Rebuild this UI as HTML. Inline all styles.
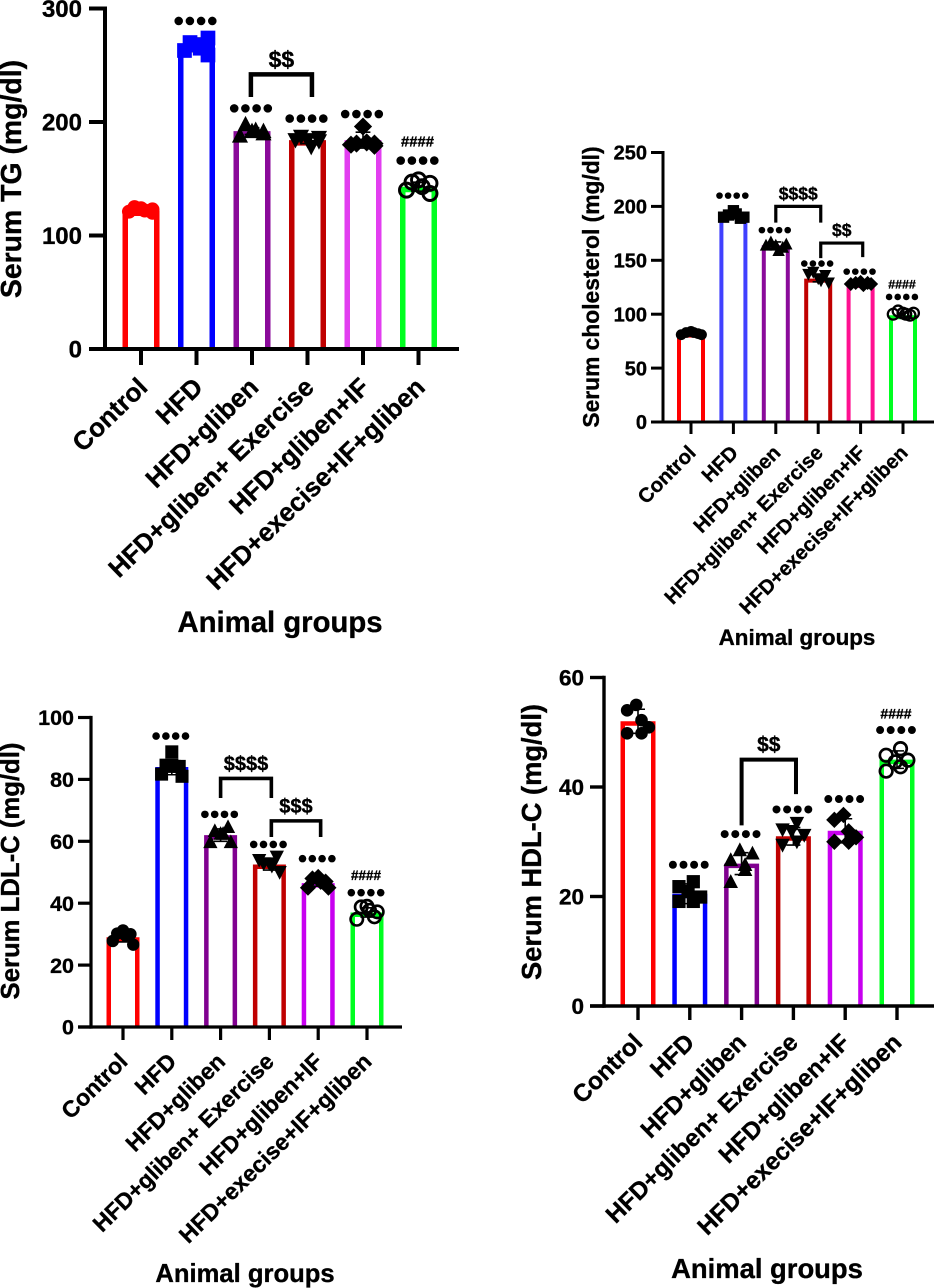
<!DOCTYPE html>
<html lang="en">
<head>
<meta charset="utf-8">
<title>Serum lipid profile by animal group</title>
<style>
html,body{margin:0;padding:0;background:#fff;}
svg{display:block;font-family:"Liberation Sans",Arial,sans-serif;font-weight:bold;}
text{fill:#000;stroke:#000;stroke-width:0.35px;}
</style>
</head>
<body>
<svg id="figure" xmlns="http://www.w3.org/2000/svg" width="934" height="1288" viewBox="0 0 934 1288">
  <g id="tg">
    <text transform="translate(21,179) rotate(-90)" text-anchor="middle" font-size="28.4">Serum TG (mg/dl)</text>
    <text x="280" y="632" text-anchor="middle" font-size="29.3">Animal groups</text>
  </g>
  <g id="chol">
    <text transform="translate(599,287) rotate(-90)" text-anchor="middle" font-size="22.8">Serum cholesterol (mg/dl)</text>
    <text x="797" y="645" text-anchor="middle" font-size="22.4">Animal groups</text>
  </g>
  <g id="ldl">
    <text transform="translate(19,871) rotate(-90)" text-anchor="middle" font-size="25.7">Serum LDL-C (mg/dl)</text>
    <text x="245" y="1282" text-anchor="middle" font-size="25.6">Animal groups</text>
  </g>
  <g id="hdl">
    <text transform="translate(541,842) rotate(-90)" text-anchor="middle" font-size="27.3">Serum HDL-C (mg/dl)</text>
    <text x="767" y="1278" text-anchor="middle" font-size="27.4">Animal groups</text>
  </g>
</svg>
<script>
const categories = ["Control", "HFD", "HFD+gliben", "HFD+gliben+ Exercise", "HFD+gliben+IF", "HFD+execise+IF+gliben"];
const markerShapes = ["circle", "square", "triangle", "invTriangle", "diamond", "ring"];

const tgTicks = [0, 100, 200, 300];
const tgMeans = [122, 268, 192, 184, 184, 143];
const tgSd = [2, 6, 3, 3, 7, 4];
const tgPoints = [
  [121, 125, 124, 122, 120, 123],
  [263, 270, 268, 265, 274, 259],
  [188, 198, 192, 193, 190, 192],
  [184, 187, 184, 178, 186, 183],
  [180, 181, 196, 182, 179, 181],
  [140, 147, 149, 143, 146, 137]
];
const tgStars = [null, 289, 212, 203, 207, 166];
const tgHash = [null, null, null, null, null, 183];
const tgBrackets = [{from: 1.98, to: 3.08, top: 242, leftEnd: 222, rightEnd: 222, label: "$$"}];

const cholTicks = [0, 50, 100, 150, 200, 250];
const cholMeans = [82, 192, 164, 133, 128, 99];
const cholSd = [2, 3, 3, 3, 1, 2];
const cholPoints = [
  [81, 83, 84, 83, 82, 81],
  [190, 192, 196, 193, 189, 190],
  [164, 167, 164, 159, 162, 165],
  [137, 139, 133, 131, 136, 129],
  [128, 129, 130, 127, 129, 128],
  [100, 103, 101, 100, 99, 101]
];
const cholStars = [null, 210, 178, 147, 139.5, 116];
const cholHash = [null, null, null, null, null, 128];
const cholBrackets = [
  {from: 2, to: 3.06, top: 200, leftEnd: 185, rightEnd: 185, label: "$$$$"},
  {from: 3.06, to: 4.05, top: 166, leftEnd: 152, rightEnd: 153, label: "$$"}
];

const ldlTicks = [0, 20, 40, 60, 80, 100];
const ldlMeans = [29, 84, 62, 52.5, 46.5, 37];
const ldlSd = [1.5, 2.5, 2, 1.8, 1, 1.5];
const ldlPoints = [
  [27.8, 30.2, 31.2, 29.6, 30, 26.6],
  [81.7, 84.6, 88.9, 84.2, 84.2, 81],
  [59.8, 63.4, 62.5, 62.5, 64.7, 59.8],
  [53.9, 52.8, 52.8, 52, 55, 50],
  [45, 48, 48.5, 46.9, 47, 45],
  [34.8, 38.8, 39, 37.7, 35.6, 37.2]
];
const ldlStars = [null, 94, 68.7, 59, 54.4, 43.4];
const ldlHash = [null, null, null, null, null, 49];
const ldlBrackets = [
  {from: 2, to: 3.04, top: 80.3, leftEnd: 74, rightEnd: 74, label: "$$$$"},
  {from: 3.04, to: 4.05, top: 66.6, leftEnd: 61.4, rightEnd: 61.4, label: "$$$"}
];

const hdlTicks = [0, 20, 40, 60];
const hdlMeans = [52, 20.5, 26, 31, 32, 45];
const hdlSd = [2.2, 1.8, 2, 1.6, 2.2, 1.6];
const hdlPoints = [
  [49.8, 54, 55, 52.2, 49.8, 50.9],
  [21.8, 19.1, 20.9, 22.7, 19.1, 19.9],
  [22.7, 26.7, 28.5, 25.8, 24.9, 27.9],
  [29.4, 32.2, 31.9, 33.4, 30, 31.2],
  [30, 34, 34.9, 31.9, 30, 30.8],
  [42.9, 45.8, 44.6, 47, 43.7, 44.9]
];
const hdlStars = [null, 25.8, 31.4, 35.9, 37.8, 50.4];
const hdlHash = [null, null, null, null, null, 53.4];
const hdlBrackets = [{from: 2, to: 3.05, top: 45, leftEnd: 33, rightEnd: 38.7, label: "$$"}];

const NS = "http://www.w3.org/2000/svg";

function make(parent, tag, attrs) {
  const el = document.createElementNS(NS, tag);
  for (const k in attrs) el.setAttribute(k, attrs[k]);
  parent.appendChild(el);
  return el;
}

function markerAt(g, shape, cx, cy, r, color) {
  let el;
  if (shape === "circle") {
    el = make(g, "circle", {cx: cx, cy: cy, r: r, fill: color});
  } else if (shape === "ring") {
    el = make(g, "circle", {cx: cx, cy: cy, r: r * 1.0, fill: "none", stroke: color, "stroke-width": r * 0.42});
  } else if (shape === "square") {
    el = make(g, "rect", {x: cx - r * 1.05, y: cy - r * 1.05, width: r * 2.1, height: r * 2.1, fill: color});
  } else if (shape === "triangle") {
    el = make(g, "path", {d: "M" + cx + " " + (cy - r * 1.2) + "L" + (cx + r * 1.15) + " " + (cy + r * 1.0) + "L" + (cx - r * 1.15) + " " + (cy + r * 1.0) + "Z", fill: color});
  } else if (shape === "invTriangle") {
    el = make(g, "path", {d: "M" + cx + " " + (cy + r * 1.2) + "L" + (cx + r * 1.15) + " " + (cy - r * 1.0) + "L" + (cx - r * 1.15) + " " + (cy - r * 1.0) + "Z", fill: color});
  } else {
    el = make(g, "path", {d: "M" + cx + " " + (cy - r * 1.3) + "L" + (cx + r * 1.3) + " " + cy + "L" + cx + " " + (cy + r * 1.3) + "L" + (cx - r * 1.3) + " " + cy + "Z", fill: color});
  }
  
  
}

function drawChart(c) {
  const g = document.getElementById(c.id);
  const maxTick = c.ticks[c.ticks.length - 1];
  const y = function (v) { return c.y0 - (v / maxTick) * (c.y0 - c.yTop); };
  const x = function (i) { return c.xFirst + i * c.xStep; };
  const half = c.barW / 2;

  c.means.forEach(function (m, i) {
    const s2 = c.barS / 2;
    const topY = y(m) + s2;
    const bar = make(g, "path", {
      d: "M" + (x(i) - half + s2) + " " + c.y0 + "V" + topY + "H" + (x(i) + half - s2) + "V" + c.y0,
      fill: "none", stroke: c.colors[i], "stroke-width": c.barS
    });
    
    
  });

  const yAxis = make(g, "line", {x1: c.axisX, x2: c.axisX, y1: c.yTop - c.axisW / 2, y2: c.y0 + c.axisW / 2, stroke: "#000", "stroke-width": c.axisW});
  
  
  const xAxis = make(g, "line", {x1: c.axisX - c.tickLen, x2: c.axisEnd, y1: c.y0, y2: c.y0, stroke: "#000", "stroke-width": c.axisW});
  
  

  c.ticks.forEach(function (t) {
    const mark = make(g, "line", {x1: c.axisX - c.tickLen, x2: c.axisX, y1: y(t), y2: y(t), stroke: "#000", "stroke-width": c.axisW});
    
    
    const label = make(g, "text", {x: c.axisX - c.tickLen - c.tickGap, y: y(t) + c.tickFont * 0.36, "text-anchor": "end", "font-size": c.tickFont});
    
    
    label.textContent = t;
  });

  categories.forEach(function (name, i) {
    const mark = make(g, "line", {x1: x(i), x2: x(i), y1: c.y0, y2: c.y0 + c.tickLen, stroke: "#000", "stroke-width": c.axisW});
    
    
    const label = make(g, "text", {
      transform: "translate(" + (x(i) + c.labelDx) + "," + (c.y0 + c.labelDy) + ") rotate(" + (-c.labelAngle) + ")",
      "text-anchor": "end", "font-size": c.catFont
    });
    
    
    label.textContent = name;
  });

  c.sd.forEach(function (s, i) {
    const m = c.means[i];
    const capW = c.barW * 0.2;
    const err = make(g, "path", {
      d: "M" + x(i) + " " + y(m + s) + "V" + y(m - s) +
         "M" + (x(i) - capW) + " " + y(m + s) + "H" + (x(i) + capW) +
         "M" + (x(i) - capW) + " " + y(m - s) + "H" + (x(i) + capW),
      stroke: "#000", "stroke-width": 1.6, fill: "none"
    });
    
    
  });

  c.points.forEach(function (grp, i) {
    grp.forEach(function (v, j) {
      markerAt(g, markerShapes[i], x(i) + c.swarm[j] * half, y(v), c.markR, c.markerColors[i]);
    });
  });

  c.stars.forEach(function (v, i) {
    if (v === null) return;
    for (let k = 0; k < 4; k++) {
      const dot = make(g, "circle", {cx: x(i) - 1.5 * c.dotGap + k * c.dotGap - 1, cy: y(v), r: c.dotR, fill: "#000"});
      
      
    }
  });

  c.hash.forEach(function (v, i) {
    if (v === null) return;
    const t = make(g, "text", {x: x(i) - 1, y: y(v) + c.hashFont * 0.36, "text-anchor": "middle", "font-size": c.hashFont});
    
    
    t.textContent = "####";
  });

  c.brackets.forEach(function (b) {
    const path = make(g, "path", {
      d: "M" + x(b.from) + " " + y(b.leftEnd) + "V" + y(b.top) + "H" + x(b.to) + "V" + y(b.rightEnd),
      fill: "none", stroke: "#000", "stroke-width": c.bracketW
    });
    
    
    const t = make(g, "text", {x: (x(b.from) + x(b.to)) / 2, y: y(b.top) - c.bracketGap, "text-anchor": "middle", "font-size": c.bracketFont});
    
    
    t.textContent = b.label;
  });
}

drawChart({
  id: "tg", ticks: tgTicks, means: tgMeans, sd: tgSd, points: tgPoints, stars: tgStars, hash: tgHash, brackets: tgBrackets,
  y0: 349, yTop: 8.5, axisX: 105, axisEnd: 459, xFirst: 141, xStep: 55.5, barW: 37, barS: 5.5, axisW: 4, tickLen: 16, tickGap: 7, bracketW: 4.5,
  tickFont: 24, catFont: 25.9, labelDx: 8, labelDy: 40, labelAngle: 44, markR: 7, dotR: 4.3, dotGap: 11.2, hashFont: 14.8, bracketFont: 23, bracketGap: 7,
  colors: ["#ff0000", "#0000ff", "#8a0a9a", "#c00000", "#e23ef0", "#00ff20"],
  markerColors: ["#ff0000", "#0000ff", "#000", "#000", "#000", "#000"],
  swarm: [-0.65, -0.35, 0, 0.2, 0.62, 0.62]
});
drawChart({
  id: "chol", ticks: cholTicks, means: cholMeans, sd: cholSd, points: cholPoints, stars: cholStars, hash: cholHash, brackets: cholBrackets,
  y0: 422, yTop: 152.5, axisX: 663, axisEnd: 934, xFirst: 691, xStep: 42.4, barW: 28, barS: 4, axisW: 3, tickLen: 12, tickGap: 4, bracketW: 3.2,
  tickFont: 20, catFont: 20.3, labelDx: 6, labelDy: 32, labelAngle: 45, markR: 5.4, dotR: 3.3, dotGap: 8.6, hashFont: 12.4, bracketFont: 17.5, bracketGap: 7,
  colors: ["#ff0000", "#4040ff", "#8a0a9a", "#c00000", "#ff1090", "#00ff20"],
  markerColors: ["#000", "#000", "#000", "#000", "#000", "#000"],
  swarm: [-0.7, -0.35, 0, 0.2, 0.5, 0.75]
});
drawChart({
  id: "ldl", ticks: ldlTicks, means: ldlMeans, sd: ldlSd, points: ldlPoints, stars: ldlStars, hash: ldlHash, brackets: ldlBrackets,
  y0: 1027, yTop: 717.5, axisX: 91, axisEnd: 402, xFirst: 123, xStep: 48.8, barW: 33, barS: 4.5, axisW: 3.2, tickLen: 13, tickGap: 4, bracketW: 3.6,
  tickFont: 21.5, catFont: 23, labelDx: 6, labelDy: 36, labelAngle: 44.5, markR: 6.2, dotR: 3.8, dotGap: 9.8, hashFont: 13.5, bracketFont: 20, bracketGap: 8,
  colors: ["#ff0000", "#0000ff", "#800090", "#c00000", "#c800f0", "#00ff20"],
  markerColors: ["#000", "#000", "#000", "#000", "#000", "#000"],
  swarm: [-0.62, -0.35, 0, 0.15, 0.45, 0.62]
});
drawChart({
  id: "hdl", ticks: hdlTicks, means: hdlMeans, sd: hdlSd, points: hdlPoints, stars: hdlStars, hash: hdlHash, brackets: hdlBrackets,
  y0: 1006, yTop: 677.5, axisX: 604, axisEnd: 934, xFirst: 638, xStep: 51.8, barW: 35, barS: 4.5, axisW: 3.4, tickLen: 14, tickGap: 6, bracketW: 4,
  tickFont: 22.5, catFont: 24.4, labelDx: 6, labelDy: 38, labelAngle: 44.5, markR: 6.3, dotR: 4, dotGap: 10.6, hashFont: 14, bracketFont: 21, bracketGap: 8,
  colors: ["#ff0000", "#0000ff", "#800090", "#c00000", "#c800f0", "#00ff20"],
  markerColors: ["#000", "#000", "#000", "#000", "#000", "#000"],
  swarm: [-0.62, -0.62, -0.1, 0.2, 0.2, 0.62]
});
</script>
</body>
</html>
